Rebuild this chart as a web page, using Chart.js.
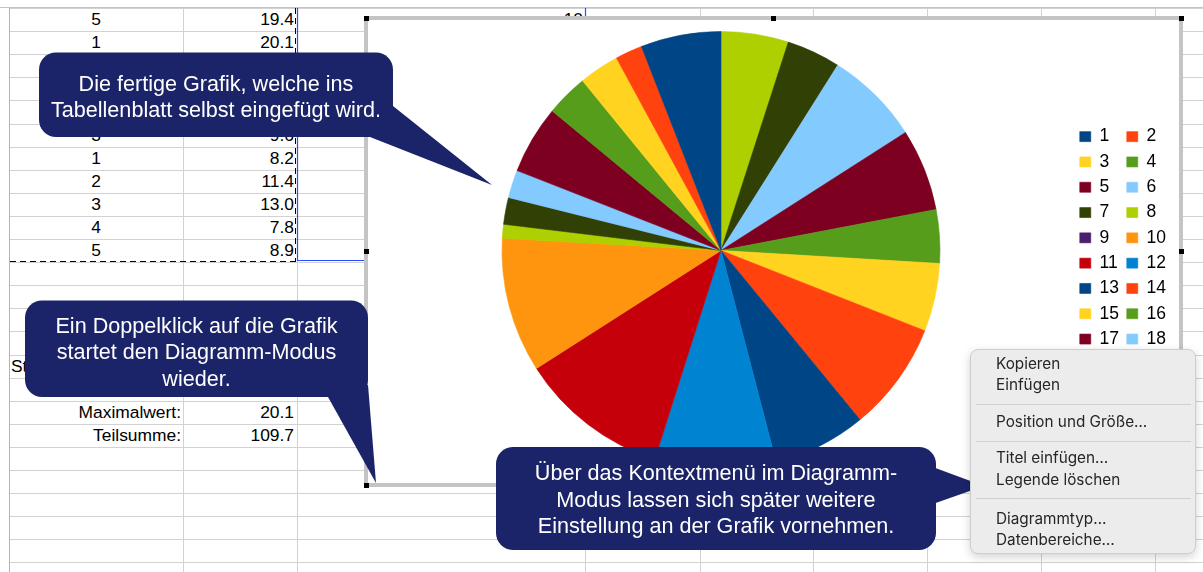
<!DOCTYPE html>
<html lang="de">
<head>
<meta charset="utf-8">
<title>Kreisdiagramm</title>
<script src="https://cdn.jsdelivr.net/npm/chart.js@4.4.1/dist/chart.umd.min.js"></script>
<style>
  html, body { margin:0; padding:0; background:#fff; }
  body { width:1203px; height:572px; position:relative; overflow:hidden; font-family:'Liberation Sans', Arial, Helvetica, sans-serif; }
  .hl { position:absolute; height:1px; background:#d2d2d2; }
  .vl { position:absolute; width:1px; background:#d2d2d2; }
  .cell { position:absolute; height:23px; line-height:23px; font-size:17.4px; color:#000; white-space:nowrap; }
  #marks { position:absolute; left:0; top:0; }
  #frame { position:absolute; left:364px; top:16px; width:811px; height:463px; border:4px solid #c4c4c4; background:#fff; }
  #frame canvas { position:absolute; left:0; top:0; }
  .handle { position:absolute; width:5px; height:5px; background:#000; }
  #overlay { position:absolute; left:0; top:0; }
  .ctext { position:absolute; color:#fff; font-family:'Liberation Sans', Arial, sans-serif; font-size:21.6px; line-height:26.7px; text-align:center; white-space:nowrap; }
  #menu { position:absolute; left:970px; top:349px; width:224px; height:203px; background:#ececec; border:1px solid #cdcdcd; border-radius:8px; box-shadow:0 3px 10px rgba(0,0,0,0.18); font-family:Inter, 'Liberation Sans', sans-serif; font-size:15.3px; color:#262626; }
  .mi { position:absolute; left:25px; white-space:nowrap; line-height:20px; height:20px; }
  .sep { position:absolute; left:5px; right:4px; height:1px; background:#d0d0d0; }
</style>
</head>
<body>
<div id="sheet"></div>
<svg id="marks" width="1203" height="572">
  <line x1="0" y1="7.5" x2="1203" y2="7.5" stroke="#c4c4c4" stroke-width="1"/>
  <line x1="9.5" y1="8" x2="9.5" y2="572" stroke="#b4b4b4" stroke-width="1"/>
  <line x1="297.5" y1="8" x2="297.5" y2="261" stroke="#2b4bff" stroke-width="1.2"/>
  <line x1="297" y1="260.5" x2="366" y2="260.5" stroke="#2b4bff" stroke-width="1.2"/>
  <line x1="585.5" y1="8" x2="585.5" y2="18" stroke="#2b4bff" stroke-width="1.2"/>
  <line x1="295.5" y1="8" x2="295.5" y2="262" stroke="#000" stroke-width="1" stroke-dasharray="6 4"/>
  <line x1="10" y1="261.5" x2="296" y2="261.5" stroke="#000" stroke-width="1" stroke-dasharray="6 4"/>
</svg>
<div id="frame"><canvas id="chart" width="811" height="463"></canvas></div>
<div id="handles"></div>
<svg id="overlay" width="1203" height="572">
  <g fill="#1b2468">
    <rect x="39" y="52.5" width="354" height="84.5" rx="17" ry="17"/>
    <polygon points="393,106 492,185 370,137"/>
    <rect x="25" y="300.5" width="343" height="96.5" rx="17" ry="17"/>
    <polygon points="328,397 368,385 376,483"/>
    <rect x="496" y="447" width="440" height="103" rx="17" ry="17"/>
    <polygon points="930,466 984,486 930,505"/>
  </g>
</svg>
<div class="ctext" style="left:39px;width:354px;top:70.6px;">Die fertige Grafik, welche ins<br>Tabellenblatt selbst eingefügt wird.</div>
<div class="ctext" style="left:25px;width:343px;top:312.6px;">Ein Doppelklick auf die Grafik<br>startet den Diagramm-Modus<br>wieder.</div>
<div class="ctext" style="left:496px;width:440px;top:460px;">Über das Kontextmenü im Diagramm-<br>Modus lassen sich später weitere<br>Einstellung an der Grafik vornehmen.</div>
<div id="menu">
  <div class="mi" style="top:4px;">Kopieren</div>
  <div class="mi" style="top:25px;">Einfügen</div>
  <div class="sep" style="top:54px;"></div>
  <div class="mi" style="top:62px;">Position und Größe…</div>
  <div class="sep" style="top:91px;"></div>
  <div class="mi" style="top:98px;">Titel einfügen…</div>
  <div class="mi" style="top:120px;">Legende löschen</div>
  <div class="sep" style="top:148px;"></div>
  <div class="mi" style="top:159px;">Diagrammtyp…</div>
  <div class="mi" style="top:180px;">Datenbereiche…</div>
</div>
<script>
// ---- Chart data ----
const categories = ['1','2','3','4','5','6','7','8','9','10','11','12','13','14','15','16','17','18','19','20'];
const values = [21.3, 7.2, 10.7, 11.2, 18.2, 7.4, 7.1, 3.7, 0, 35.8, 39.8, 32.2, 24.8, 29.1, 18.1, 14.2, 21.8, 25.2, 14.3, 17.9];
const palette = ['#004586','#ff420e','#ffd320','#579d1c','#7e0021','#83caff','#314004','#aecf00','#4b1f6f','#ff950e','#c5000b','#0084d1'];
const sliceColors = categories.map((c, i) => palette[i % palette.length]);

// ---- Spreadsheet cells visible around the chart ----
const colALabels = ['5','1','','','','3','1','2','3','4','5'];
const colBValues = ['19.4','20.1','','','','9.6','8.2','11.4','13.0','7.8','8.9'];
const statLabels = ['Maximalwert:','Teilsumme:'];
const statValues = ['20.1','109.7'];

// ---- sheet grid ----
const sheet = document.getElementById('sheet');
const rowLines = [];
for (let k = 0; k < 25; k++) rowLines.push(Math.round(8 + 23.1 * k));
rowLines.forEach(y => {
  const d = document.createElement('div'); d.className = 'hl';
  d.style.left = '10px'; d.style.width = '1193px'; d.style.top = y + 'px';
  sheet.appendChild(d);
});
[183, 297, 585, 700, 813, 927, 1041, 1155].forEach(x => {
  const d = document.createElement('div'); d.className = 'vl';
  d.style.left = x + 'px'; d.style.top = '8px'; d.style.height = '564px';
  sheet.appendChild(d);
});
function addCell(text, left, width, row, align) {
  if (!text) return;
  const d = document.createElement('div'); d.className = 'cell';
  d.textContent = text;
  d.style.left = left + 'px'; d.style.width = width + 'px';
  d.style.top = rowLines[row] + 'px'; d.style.textAlign = align;
  sheet.appendChild(d);
}
colALabels.forEach((t, i) => addCell(t, 9, 174, i, 'center'));
colBValues.forEach((t, i) => addCell(t, 183, 111, i, 'right'));
addCell('10', 480, 103, 0, 'right');
addCell('Standardabweichung:', 11, 200, 15, 'left');
statLabels.forEach((t, i) => addCell(t, 9, 172, 17 + i, 'right'));
statValues.forEach((t, i) => addCell(t, 183, 111, 17 + i, 'right'));

// ---- selection handles on the chart frame ----
const handles = document.getElementById('handles');
[[366,18],[773,18],[1181,18],[366,251],[1181,251],[366,485],[773,485],[1181,485]].forEach(([x,y]) => {
  const h = document.createElement('div'); h.className = 'handle';
  h.style.left = (x - 2.5) + 'px'; h.style.top = (y - 2.5) + 'px';
  handles.appendChild(h);
});

// ---- pie chart (LibreOffice draws counter-clockwise, so feed reversed order) ----
const half = Math.ceil(categories.length / 2);
const legendRank = (label) => {
  const n = categories.indexOf(label);
  return n % 2 === 0 ? n / 2 : half + (n - 1) / 2;
};
new Chart(document.getElementById('chart'), {
  type: 'pie',
  data: {
    labels: categories.slice().reverse(),
    datasets: [{
      data: values.slice().reverse(),
      backgroundColor: sliceColors.slice().reverse(),
      borderColor: sliceColors.slice().reverse(),
      borderWidth: 0.6,
      radius: 219
    }]
  },
  options: {
    responsive: false,
    animation: false,
    devicePixelRatio: 1,
    layout: { padding: { left: 2, right: 3, top: 93, bottom: 95 } },
    plugins: {
      tooltip: { enabled: false },
      legend: {
        position: 'right',
        align: 'center',
        labels: {
          boxWidth: 11,
          boxHeight: 10,
          padding: 7.8,
          color: '#000',
          font: { family: "'Liberation Sans', Arial, sans-serif", size: 17.5 },
          sort: (a, b) => legendRank(a.text) - legendRank(b.text)
        }
      }
    }
  }
});
</script>
</body>
</html>
